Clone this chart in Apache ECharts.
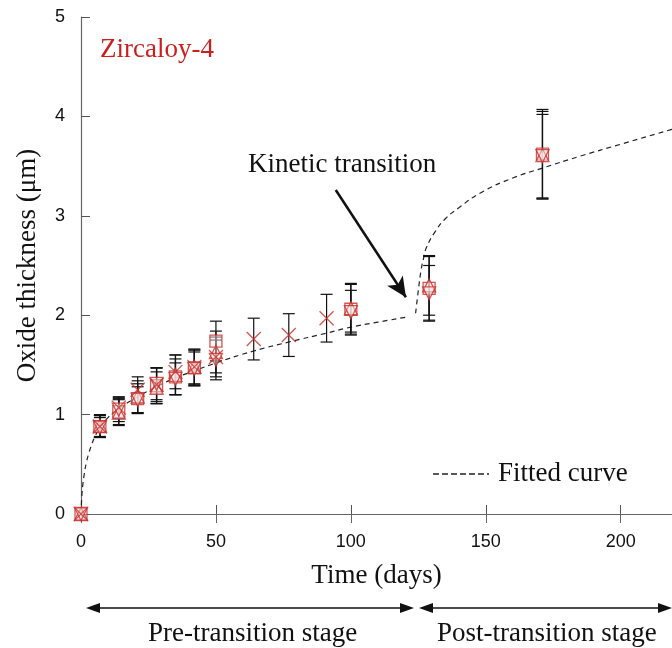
<!DOCTYPE html>
<html>
<head>
<meta charset="utf-8">
<script src="https://cdn.jsdelivr.net/npm/echarts@6/dist/echarts.min.js"></script>
<style>
  html, body { margin: 0; padding: 0; background: #fff; }
  #chart { width: 672px; height: 648px; }
</style>
</head>
<body>
<div id="chart"></div>
<script>
const daysA = [0, 7, 14, 21, 28, 35, 42, 50, 100, 129, 171];
const squareVals = [0, 0.88, 1.03, 1.16, 1.29, 1.38, 1.47, 1.74, 2.06, 2.27, 3.62];
const squareErr = [0, 0.11, 0.13, 0.15, 0.18, 0.18, 0.18, 0.20, 0.26, 0.32, 0.45];
const triUpVals = [0, 0.89, 1.02, 1.18, 1.27, 1.40, 1.48, 1.63, 2.07, 2.30, 3.61];
const triUpErr = [0, 0.11, 0.13, 0.16, 0.16, 0.20, 0.17, 0.21, 0.24, 0.30, 0.44];
const triDownVals = [0, 0.87, 1.05, 1.15, 1.31, 1.36, 1.46, 1.55, 2.03, 2.22, 3.60];
const triDownErr = [0, 0.10, 0.12, 0.13, 0.16, 0.16, 0.17, 0.20, 0.22, 0.28, 0.42];

const daysB = [0, 7, 14, 21, 28, 35, 42, 50, 64, 77, 91];
const crossVals = [0, 0.88, 1.07, 1.25, 1.30, 1.43, 1.48, 1.58, 1.76, 1.80, 1.97];
const crossErr = [0, 0.11, 0.11, 0.13, 0.17, 0.17, 0.18, 0.20, 0.21, 0.215, 0.24];

// fitted curve, pre- and post-transition
const fitPreDays = [0, 0.3, 0.7, 1.2, 2, 3, 4, 5, 7, 10, 14, 21, 28, 35, 42, 50, 64, 77, 91, 100, 110, 120.5];
const fitPreVals = [0, 0.18, 0.30, 0.40, 0.52, 0.62, 0.70, 0.77, 0.87, 0.97, 1.06, 1.18, 1.28, 1.37, 1.44, 1.52, 1.64, 1.73, 1.82, 1.88, 1.93, 1.98];
const fitPostDays = [124, 125, 126, 127, 128, 131, 135, 140, 148, 160, 171, 185, 200, 219];
const fitPostVals = [2.02, 2.25, 2.45, 2.58, 2.68, 2.83, 2.97, 3.08, 3.23, 3.38, 3.48, 3.60, 3.72, 3.87];

const red = '#c8302c';
const serif = '"Liberation Serif", "DejaVu Serif", serif';
const sans = '"Liberation Sans", Arial, sans-serif';

function pairs(xs, ys) {
  return xs.map((x, i) => [x, ys[i]]);
}
function errRows(xs, ys, es) {
  return xs.map((x, i) => [x, ys[i] - es[i], ys[i] + es[i]]).filter(r => r[2] > r[1]);
}

function renderErr(params, api) {
  const x = api.value(0);
  const lo = api.coord([x, api.value(1)]);
  const hi = api.coord([x, api.value(2)]);
  const w = 6;
  const style = { stroke: '#111', lineWidth: 1.2, fill: null };
  return {
    type: 'group',
    children: [
      { type: 'line', shape: { x1: hi[0], y1: hi[1], x2: lo[0], y2: lo[1] }, style: style },
      { type: 'line', shape: { x1: hi[0] - w, y1: hi[1], x2: hi[0] + w, y2: hi[1] }, style: style },
      { type: 'line', shape: { x1: lo[0] - w, y1: lo[1], x2: lo[0] + w, y2: lo[1] }, style: style }
    ]
  };
}

const errSeries = [
  errRows(daysA, squareVals, squareErr),
  errRows(daysA, triUpVals, triUpErr),
  errRows(daysA, triDownVals, triDownErr),
  errRows(daysB, crossVals, crossErr)
].map(rows => ({
  type: 'custom',
  renderItem: renderErr,
  data: rows,
  encode: { x: 0, y: [1, 2] },
  z: 2,
  silent: true
}));

const markerStyle = { color: 'rgba(255,235,235,0.6)', borderColor: red, borderWidth: 1.3 };
const fitLine = { color: '#222', width: 1.2, type: [5, 4] };

const chart = echarts.init(document.getElementById('chart'));
chart.setOption({
  animation: false,
  backgroundColor: '#fff',
  grid: { left: 81, right: 0, top: 17, bottom: 134, outerBoundsMode: 'none', containLabel: false },
  xAxis: [
    {
      type: 'value', min: 0, max: 219, interval: 50,
      name: 'Time (days)', nameLocation: 'middle', nameGap: 48,
      nameTextStyle: { fontFamily: serif, fontSize: 27, color: '#111' },
      axisLine: { onZero: false, lineStyle: { color: '#333', width: 1.2 } },
      axisTick: { inside: true, length: 9, lineStyle: { color: '#555' } },
      axisLabel: { fontFamily: sans, fontSize: 18, color: '#111', margin: 19, showMaxLabel: false },
      splitLine: { show: false }
    },
    {
      type: 'value', min: 0, max: 219, interval: 50, position: 'top',
      axisLine: { lineStyle: { color: '#666', width: 1.2 } },
      axisTick: { inside: true, length: 9, lineStyle: { color: '#666' } },
      axisLabel: { show: false },
      splitLine: { show: false }
    }
  ],
  yAxis: {
    type: 'value', min: 0, max: 5, interval: 1,
    name: 'Oxide thickness (\u03bcm)', nameLocation: 'middle', nameGap: 40,
    nameTextStyle: { fontFamily: serif, fontSize: 27, color: '#111' },
    axisLine: { show: true, lineStyle: { color: '#666', width: 1.2 } },
    axisTick: { show: true, inside: true, length: 9, lineStyle: { color: '#555' } },
    axisLabel: { fontFamily: sans, fontSize: 18, color: '#111', margin: 16 },
    splitLine: { show: false }
  },
  graphic: [
    { type: 'text', left: 100, top: 36, style: { text: 'Zircaloy-4', fill: '#cc1e1e', font: '27px ' + serif } },
    { type: 'text', left: 248, top: 151, style: { text: 'Kinetic transition', fill: '#111', font: '27px ' + serif } },
    // legend for the fitted curve
    { type: 'line', shape: { x1: 433, y1: 474, x2: 489, y2: 474 }, style: { stroke: '#222', lineWidth: 1.3, lineDash: [6, 3] } },
    { type: 'text', left: 498, top: 460, style: { text: 'Fitted curve', fill: '#111', font: '27px ' + serif } },
    // stage arrows below the axis
    { type: 'line', shape: { x1: 94, y1: 608, x2: 407, y2: 608 }, style: { stroke: '#111', lineWidth: 1.5 } },
    { type: 'polygon', shape: { points: [[86, 608], [100, 603], [100, 613]] }, style: { fill: '#111' } },
    { type: 'polygon', shape: { points: [[414, 608], [400, 603], [400, 613]] }, style: { fill: '#111' } },
    { type: 'line', shape: { x1: 426, y1: 608, x2: 666, y2: 608 }, style: { stroke: '#111', lineWidth: 1.5 } },
    { type: 'polygon', shape: { points: [[419, 608], [433, 603], [433, 613]] }, style: { fill: '#111' } },
    { type: 'polygon', shape: { points: [[672, 608], [658, 603], [658, 613]] }, style: { fill: '#111' } },
    { type: 'text', left: 148, top: 620, style: { text: 'Pre-transition stage', fill: '#111', font: '27px ' + serif } },
    { type: 'text', left: 437, top: 620, style: { text: 'Post-transition stage', fill: '#111', font: '27px ' + serif } }
  ],
  series: [
    {
      name: 'Fitted curve', type: 'line', data: pairs(fitPreDays, fitPreVals),
      showSymbol: false, smooth: true, lineStyle: fitLine, z: 1,
      markLine: {
        silent: true, symbol: ['none', 'arrow'], symbolSize: [14, 20],
        label: { show: false },
        lineStyle: { color: '#111', width: 2.5, type: 'solid' },
        data: [[{ coord: [94.4, 3.26] }, { coord: [120.4, 2.18] }]]
      }
    },
    {
      name: 'Fitted curve', type: 'line', data: pairs(fitPostDays, fitPostVals),
      showSymbol: false, smooth: true, lineStyle: fitLine, z: 1
    },
    ...errSeries,
    { type: 'scatter', data: pairs(daysA, squareVals), symbol: 'rect', symbolSize: 12, itemStyle: markerStyle, z: 3 },
    { type: 'scatter', data: pairs(daysA, triUpVals), symbol: 'triangle', symbolSize: 13, itemStyle: markerStyle, z: 3 },
    { type: 'scatter', data: pairs(daysA, triDownVals), symbol: 'triangle', symbolRotate: 180, symbolSize: 13, itemStyle: markerStyle, z: 3 },
    {
      type: 'scatter', data: pairs(daysB, crossVals), symbol: 'path://M0,0L10,10M10,0L0,10', symbolSize: 14,
      itemStyle: { color: 'none', borderColor: red, borderWidth: 1.3 }, z: 3
    }
  ]
});
</script>
</body>
</html>
